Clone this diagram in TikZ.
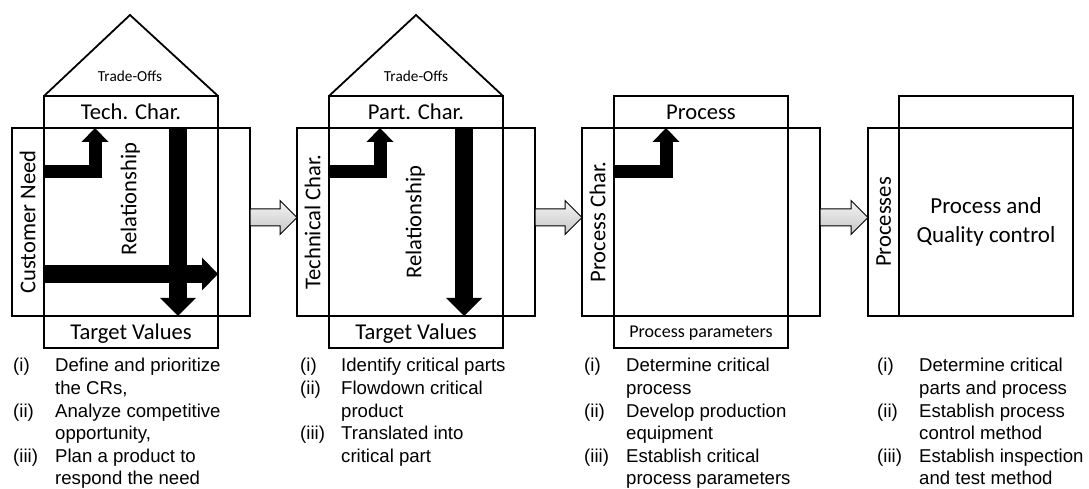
\documentclass[tikz,border=0pt]{standalone}
\usepackage{fontspec}
\setmainfont{Carlito}
\newfontfamily\listfont{Liberation Sans}
\usepackage{tikz}
\usetikzlibrary{arrows.meta, calc}

\begin{document}
\begin{tikzpicture}[x=1pt, y=1pt, node distance=285pt,
  frame/.style={draw, line width=1.8pt, inner sep=0pt, outer sep=0pt},
  col/.style={frame, minimum width=174pt, minimum height=252pt},
  wide/.style={frame, minimum width=238pt, minimum height=188pt},
  lbl/.style={inner sep=0pt, text height=14.6pt, text depth=0pt, font=\fontsize{22.6}{27}\selectfont},
  small/.style={inner sep=0pt, text height=11.6pt, text depth=0pt, font=\fontsize{18}{22}\selectfont},
  roof/.style={inner sep=0pt, font=\fontsize{15.3}{18}\selectfont},
  turned/.style={lbl, rotate=90},
  thin arrow/.style={line width=13pt, -{Triangle[width=27pt, length=14pt, line width=0pt]}},
  fat arrow/.style={line width=17.5pt, -{Triangle[width=36pt, length=18pt, line width=0pt]}},
  flat arrow/.style={line width=18pt, -{Triangle[width=33pt, length=16pt, line width=0pt]}},
  flow/.style={draw, line width=1pt, top color=gray!8, bottom color=gray!45},
  steps/.style={anchor=base west, inner sep=0pt, font=\listfont\fontsize{18.6}{22.6}\selectfont}]

  \useasboundingbox (0,0) rectangle (1089,489);

  \node [col] (C1) at (131,267) {};
  \node [col, right of = C1] (C2) {};
  \node [col, right of = C2] (C3) {};
  \node [frame, minimum width=174pt, minimum height=220pt] (C4) at (986,283) {};

  \node [wide] (W1) at (C1) {};
  \node [wide] (W2) at (C2) {};
  \node [wide] (W3) at (C3) {};
  \node [frame, minimum width=205pt, minimum height=188pt] (W4) at (970.5,267) {};

  \draw [line width=1.8pt] (C1.north west) -- ++(86,81) -- (C1.north east);
  \draw [line width=1.8pt] (C2.north west) -- ++(87,81) -- (C2.north east);

  \node [roof] (R1) at ($(C1.north)+(-1,20)$) {Trade-Offs};
  \node [roof] (R2) at ($(C2.north)+(0,20)$) {Trade-Offs};

  \node [lbl] (T1) at ($(C1.north)+(0,-16)$) {Tech. Char.};
  \node [lbl] (T2) at ($(C2.north)+(0,-16)$) {Part. Char.};
  \node [lbl] (T3) at ($(C3.north)+(0,-16)$) {Process};

  \node [lbl] (B1) at ($(C1.south)+(0,16)$) {Target Values};
  \node [lbl] (B2) at ($(C2.south)+(0,16)$) {Target Values};
  \node [small] (B3) at ($(C3.south)+(0,16)$) {Process parameters};

  \node [turned] (S1) at ($(W1.west)+(16,0)$) {Customer Need};
  \node [turned] (S2) at ($(W2.west)+(16,0)$) {Technical Char.};
  \node [turned] (S3) at ($(W3.west)+(16,0)$) {Process Char.};
  \node [turned] (S4) at ($(W4.west)+(15.5,0)$) {Processes};

  \node [turned] (L1) at ($(C1.center)+(-2,23)$) {Relationship};
  \node [turned] (L2) at ($(C2.center)+(-2,0)$) {Relationship};
  \node [font=\fontsize{23}{29}\selectfont, align=center, inner sep=0pt] (Q4) at (C4 |- W4) {Process and\\Quality control};

  \draw [thin arrow] ($(C1.north west)+(0,-76)$) -| ($(C1.west |- W1.north)+(51,0)$);
  \draw [thin arrow] ($(C2.north west)+(0,-76)$) -| ($(C2.west |- W2.north)+(51,0)$);
  \draw [thin arrow] ($(C3.north west)+(0,-76)$) -| ($(C3.west |- W3.north)+(52,0)$);

  \draw [fat arrow] ($(C1.west |- W1.north)+(134,0)$) -- ($(C1.west |- W1.south)+(134,0)$);
  \draw [fat arrow] ($(C2.west |- W2.north)+(135,0)$) -- ($(C2.west |- W2.south)+(135,0)$);
  \draw [flat arrow] ($(C1.west |- W1.south)+(0,42)$) -- ($(C1.east |- W1.south)+(0,42)$);

  \foreach \a/\b in {W1/W2, W2/W3, W3/W4}
    \path [flow] ($(\a.east)+(0,13)$) -- ($(\b.west)+(-17,13)$) -- ($(\b.west)+(-17,21.5)$)
      -- ($(\b.west)+(0,4.5)$) -- ($(\b.west)+(-17,-12.5)$) -- ($(\b.west)+(-17,-4)$)
      -- ($(\a.east)+(0,-4)$) -- cycle;

  \node [steps] (P1) at (13,117) {\begin{tabular}[t]{@{}p{42pt}@{}l@{}}
    (i) & Define and prioritize\\
        & the CRs,\\
    (ii) & Analyze competitive\\
        & opportunity,\\
    (iii) & Plan a product to\\
        & respond the need
  \end{tabular}};
  \node [steps] (P2) at (300,117) {\begin{tabular}[t]{@{}p{41pt}@{}l@{}}
    (i) & Identify critical parts\\
    (ii) & Flowdown critical\\
        & product\\
    (iii) & Translated into\\
        & critical part
  \end{tabular}};
  \node [steps] (P3) at (584,117) {\begin{tabular}[t]{@{}p{42pt}@{}l@{}}
    (i) & Determine critical\\
        & process\\
    (ii) & Develop production\\
        & equipment\\
    (iii) & Establish critical\\
        & process parameters
  \end{tabular}};
  \node [steps] (P4) at (877,117) {\begin{tabular}[t]{@{}p{42pt}@{}l@{}}
    (i) & Determine critical\\
        & parts and process\\
    (ii) & Establish process\\
        & control method\\
    (iii) & Establish inspection\\
        & and test method
  \end{tabular}};
\end{tikzpicture}
\end{document}
